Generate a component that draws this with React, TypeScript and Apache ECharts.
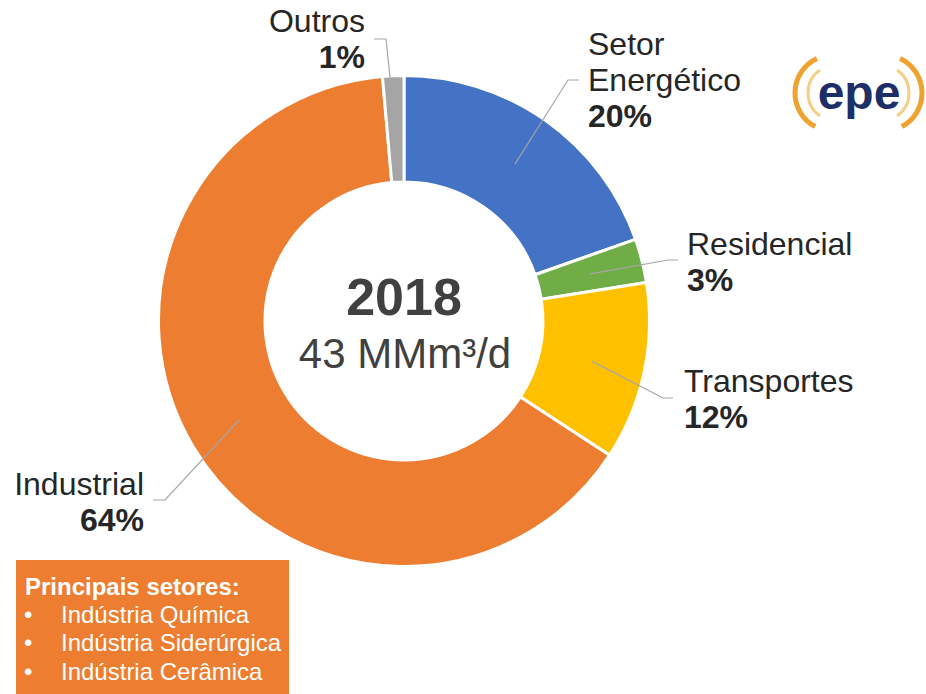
import React, { useEffect, useRef } from "react";
import * as echarts from "echarts";

// ---- data ----
const sectors = ["Setor Energético", "Residencial", "Transportes", "Industrial", "Outros"];
const labelNames = ["Setor\nEnergético", "Residencial", "Transportes", "Industrial", "Outros"];
const shares = [19.6, 2.9, 11.7, 64.4, 1.4];
const colors = ["#4472C4", "#70AD47", "#FFC000", "#ED7D31", "#A5A5A5"];
const centerYear = "2018";
const centerTotal = "43 MMm³/d";
const boxTitle = "Principais setores:";
const boxItems = ["Indústria Química", "Indústria Siderúrgica", "Indústria Cerâmica"];

// ---- layout ----
const FONT = "'Liberation Sans', Arial, Helvetica, sans-serif";
const CX = 404;
const CY = 321;
const R_IN = 139;
const R_OUT = 245.5;
const R_MID = 192;

const labelAnchors = [
  { x: 588, y: 26, align: "left", corner: [568, 80], end: [579, 80] },
  { x: 687, y: 226, align: "left", corner: [668, 260], end: [678, 260] },
  { x: 684, y: 363, align: "left", corner: [663, 398], end: [673, 398] },
  { x: 144, y: 466, align: "right", corner: [165, 500], end: [153, 500] },
  { x: 365, y: 3, align: "right", corner: [386, 39], end: [374, 39] },
];

export default function App() {
  const ref = useRef<HTMLDivElement>(null);

  useEffect(() => {
    if (!ref.current) return;
    const chart = echarts.init(ref.current, undefined, { renderer: "svg" });

    const total = shares.reduce((a, b) => a + b, 0);
    let acc = 0;
    const mids = shares.map((v) => {
      const a = 90 - ((acc + v / 2) / total) * 360;
      acc += v;
      return (a * Math.PI) / 180;
    });

    const BOX_FS = 24;
    const boxGraphics: any[] = [
      {
        type: "rect",
        shape: { x: 16, y: 560, width: 273, height: 134 },
        style: { fill: "#ED7D31" },
        silent: true,
      },
      {
        type: "text",
        x: 25,
        y: 598,
        style: {
          text: boxTitle,
          fill: "#ffffff",
          font: `bold ${BOX_FS}px ${FONT}`,
          verticalAlign: "bottom",
        },
      },
    ];
    boxItems.forEach((t, i) => {
      const by = 626 + i * 28.5;
      boxGraphics.push({
        type: "text",
        x: 24,
        y: by,
        style: { text: "•", fill: "#fff", font: `${BOX_FS}px ${FONT}`, verticalAlign: "bottom" },
      });
      boxGraphics.push({
        type: "text",
        x: 61,
        y: by,
        style: { text: t, fill: "#fff", font: `${BOX_FS}px ${FONT}`, verticalAlign: "bottom" },
      });
    });

    const logo: any[] = [
      {
        type: "arc",
        shape: { cx: 833, cy: 93, r: 38, startAngle: (118 * Math.PI) / 180, endAngle: (245 * Math.PI) / 180 },
        style: { stroke: "#EFA22E", lineWidth: 5, fill: null },
      },
      {
        type: "arc",
        shape: { cx: 836, cy: 93, r: 28, startAngle: (125 * Math.PI) / 180, endAngle: (235 * Math.PI) / 180 },
        style: { stroke: "#F6CF86", lineWidth: 3, fill: null },
      },
      {
        type: "arc",
        shape: { cx: 884, cy: 93, r: 38, startAngle: (-65 * Math.PI) / 180, endAngle: (62 * Math.PI) / 180 },
        style: { stroke: "#EFA22E", lineWidth: 5, fill: null },
      },
      {
        type: "arc",
        shape: { cx: 881, cy: 93, r: 28, startAngle: (-55 * Math.PI) / 180, endAngle: (55 * Math.PI) / 180 },
        style: { stroke: "#F6CF86", lineWidth: 3, fill: null },
      },
      {
        type: "text",
        x: 859,
        y: 92,
        style: {
          text: "epe",
          fill: "#1C2F66",
          font: `bold 48px ${FONT}`,
          align: "center",
          verticalAlign: "middle",
        },
      },
    ];

    const pieData = sectors.map((name, i) => ({
      name,
      value: shares[i],
      itemStyle: { color: colors[i] },
    }));

    chart.setOption({
      animation: false,
      backgroundColor: "#ffffff",
      series: [
        {
          type: "pie",
          center: [CX, CY],
          radius: [R_IN, R_OUT],
          startAngle: 90,
          clockwise: true,
          silent: true,
          z: 2,
          itemStyle: { borderColor: "#ffffff", borderWidth: 3 },
          label: { show: false },
          labelLine: { show: false },
          data: pieData,
        },
        {
          // transparent overlay carrying labels so leader lines sit above the slices
          type: "pie",
          center: [CX, CY],
          radius: [R_IN, R_OUT],
          startAngle: 90,
          clockwise: true,
          avoidLabelOverlap: false,
          silent: true,
          z: 5,
          itemStyle: { color: "rgba(0,0,0,0)", borderWidth: 0 },
          label: {
            show: true,
            position: "outside",
            formatter: (p: any) =>
              `{n|${labelNames[p.dataIndex].split("\n").join("}\n{n|")}}\n{p|${Math.round(p.percent)}%}`,
            rich: {
              n: { fontFamily: FONT, fontSize: 32, lineHeight: 36, color: "#262626" },
              p: { fontFamily: FONT, fontSize: 32, lineHeight: 36, color: "#262626", fontWeight: "bold" },
            },
          },
          labelLine: {
            show: true,
            length: 10,
            length2: 10,
            lineStyle: { color: "#A6A6A6", width: 1.2 },
          },
          labelLayout: (params: any) => {
            const i = params.dataIndex;
            const a = labelAnchors[i];
            const m = mids[i];
            const start = [CX + R_MID * Math.cos(m), CY - R_MID * Math.sin(m)];
            return {
              x: a.x,
              y: a.y,
              align: a.align,
              verticalAlign: "top",
              labelLinePoints: [start, a.corner, a.end],
            };
          },
          data: sectors.map((name, i) => ({ name, value: shares[i] })),
        },
      ],
      graphic: [
        {
          type: "text",
          x: CX,
          y: 297,
          style: {
            text: centerYear,
            fill: "#404040",
            font: `bold 52px ${FONT}`,
            align: "center",
            verticalAlign: "middle",
          },
        },
        {
          type: "text",
          x: CX + 1,
          y: 353,
          style: {
            text: centerTotal,
            fill: "#404040",
            font: `42px ${FONT}`,
            align: "center",
            verticalAlign: "middle",
          },
        },
        ...boxGraphics,
        ...logo,
      ],
    });

    return () => chart.dispose();
  }, []);

  return (
    <div
      ref={ref}
      style={{ position: "fixed", left: 0, top: 0, width: 926, height: 694, background: "#fff" }}
    />
  );
}
